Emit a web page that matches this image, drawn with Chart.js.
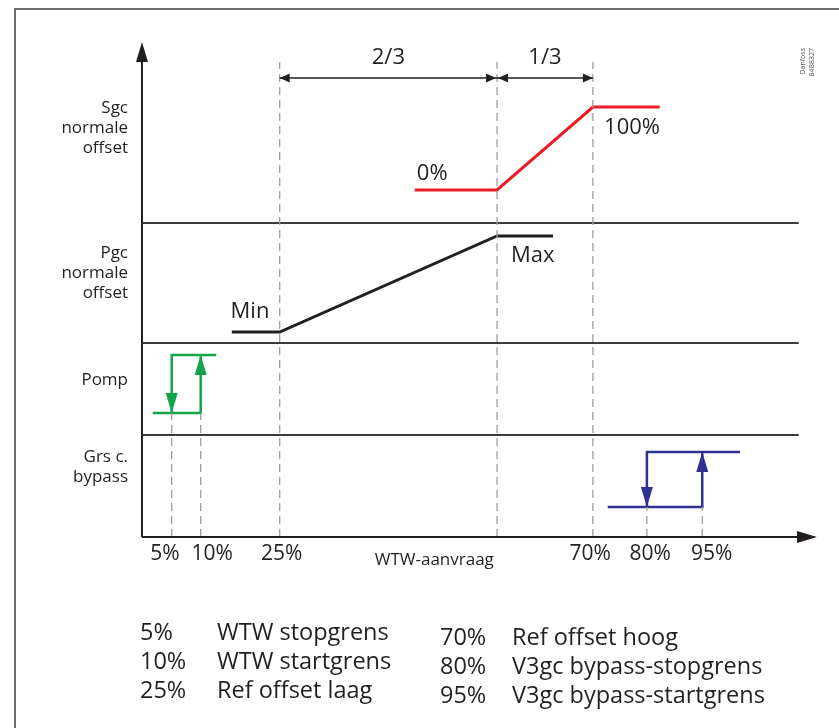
<!DOCTYPE html>
<html>
<head>
<meta charset="utf-8">
<script src="https://cdn.jsdelivr.net/npm/chart.js@4.4.1/dist/chart.umd.min.js"></script>
<style>
  html, body { margin: 0; padding: 0; background: #fff; }
</style>
</head>
<body>
<canvas id="grafiek" width="839" height="728"></canvas>
<script>
// x = plaats op de WTW-aanvraag as (schema, niet lineair), y = hoogte in het schema
var tickLabels = ['5%', '10%', '25%', '70%', '80%', '95%'];
var tickPos = [3.4, 10.4, 20.7, 66.4, 75.3, 84.4];
var grensPos = [4.4, 8.7, 20.4, 66.8, 74.8, 83.0];   // 5, 10, 25, 70, 80, 95 %
var midPos = 52.6;                                     // einde 2/3 deel

var panelNamen = [['Sgc', 'normale', 'offset'], ['Pgc', 'normale', 'offset'], 'Pomp', ['Grs c.', 'bypass']];
var panelMidden = [81.8, 52.8, 31.4, 13.9];
var panelGrenzen = [62.8, 38.8, 20.4];

var sgcX = [40.4, 52.6, 66.8, 76.7];
var sgcY = [69.4, 69.4, 86.0, 86.0];
var pgcX = [13.3, 20.4, 52.6, 60.9];
var pgcY = [41.0, 41.0, 60.2, 60.2];

var pompLaag = 24.8, pompHoog = 36.4;
var pompBegin = 1.6, pompEind = 11.0;
var bypassLaag = 6.0, bypassHoog = 17.0;
var bypassBegin = 69.0, bypassEind = 88.6;

var legendaLinks = [['5%', 'WTW stopgrens'], ['10%', 'WTW startgrens'], ['25%', 'Ref offset laag']];
var legendaRechts = [['70%', 'Ref offset hoog'], ['80%', 'V3gc bypass-stopgrens'], ['95%', 'V3gc bypass-startgrens']];

var tekstKleur = '#231f20';
var fontNaam = '"Open Sans", "Noto Sans", sans-serif';

function lijn(xs, ys, kleur, dikte, dash) {
  return {
    data: xs.map(function (x, i) { return { x: x, y: ys[i] }; }),
    borderColor: kleur,
    borderWidth: dikte,
    borderDash: dash || [],
    borderCapStyle: 'butt',
    borderJoinStyle: 'miter',
    pointRadius: 0,
    fill: false,
    tension: 0,
    clip: false
  };
}

var datasets = [];

// stippellijnen
[grensPos[2], midPos, grensPos[3]].forEach(function (x) {
  datasets.push(lijn([x, x], [0, 95], '#9d9d9d', 1.3, [8, 5]));
});
[grensPos[0], grensPos[1]].forEach(function (x) {
  datasets.push(lijn([x, x], [0, pompLaag], '#9d9d9d', 1.3, [8, 5]));
});
[grensPos[4], grensPos[5]].forEach(function (x) {
  datasets.push(lijn([x, x], [0, bypassLaag], '#9d9d9d', 1.3, [8, 5]));
});

// scheidingslijnen tussen de panelen
panelGrenzen.forEach(function (y) {
  datasets.push(lijn([0, 97.3], [y, y], '#3c3c3c', 2));
});

// Sgc en Pgc
datasets.push(lijn(sgcX, sgcY, '#ec1c24', 3));
datasets.push(lijn(pgcX, pgcY, '#231f20', 3));

// Pomp (groen)
datasets.push(lijn([pompBegin, grensPos[1], grensPos[1]], [pompLaag, pompLaag, pompHoog], '#12a54b', 2.5));
datasets.push(lijn([pompEind, grensPos[0], grensPos[0]], [pompHoog, pompHoog, pompLaag], '#12a54b', 2.5));

// bypass (blauw)
datasets.push(lijn([bypassBegin, grensPos[5], grensPos[5]], [bypassLaag, bypassLaag, bypassHoog], '#2e3192', 2.5));
datasets.push(lijn([bypassEind, grensPos[4], grensPos[4]], [bypassHoog, bypassHoog, bypassLaag], '#2e3192', 2.5));

function pijlPunt(ctx, x, y, dx, dy, lengte, breedte, kleur) {
  // punt op (x,y), richting (dx,dy)
  var nx = -dy, ny = dx;
  ctx.beginPath();
  ctx.moveTo(x, y);
  ctx.lineTo(x - dx * lengte + nx * breedte, y - dy * lengte + ny * breedte);
  ctx.lineTo(x - dx * lengte - nx * breedte, y - dy * lengte - ny * breedte);
  ctx.closePath();
  ctx.fillStyle = kleur;
  ctx.fill();
}

var schemaPlugin = {
  id: 'schema',
  beforeDraw: function (chart) {
    var ctx = chart.ctx;
    ctx.save();
    ctx.strokeStyle = '#6d6d6d';
    ctx.lineWidth = 2;
    ctx.strokeRect(15, 9, 1000, 1000);
    ctx.restore();
  },
  afterDatasetsDraw: function (chart) {
    var ctx = chart.ctx;
    var xs = chart.scales.x, ys = chart.scales.y;
    var px = function (v) { return xs.getPixelForValue(v); };
    var py = function (v) { return ys.getPixelForValue(v); };
    ctx.save();

    // assen met pijl
    ctx.strokeStyle = '#231f20';
    ctx.lineWidth = 2;
    ctx.beginPath();
    ctx.moveTo(px(0), py(0));
    ctx.lineTo(px(0), py(99) + 16);
    ctx.moveTo(px(0), py(0));
    ctx.lineTo(px(100) - 16, py(0));
    ctx.stroke();
    pijlPunt(ctx, px(0), py(99), 0, -1, 20, 6, '#231f20');
    pijlPunt(ctx, px(100), py(0), 1, 0, 20, 6, '#231f20');

    // maatlijnen 2/3 en 1/3
    var ym = py(91.8);
    ctx.lineWidth = 1.5;
    ctx.beginPath();
    ctx.moveTo(px(grensPos[2]), ym);
    ctx.lineTo(px(grensPos[3]), ym);
    ctx.stroke();
    pijlPunt(ctx, px(grensPos[2]), ym, -1, 0, 10, 4.5, '#231f20');
    pijlPunt(ctx, px(midPos) - 1, ym, 1, 0, 10, 4.5, '#231f20');
    pijlPunt(ctx, px(midPos) + 1, ym, -1, 0, 10, 4.5, '#231f20');
    pijlPunt(ctx, px(grensPos[3]), ym, 1, 0, 10, 4.5, '#231f20');

    // pijlen pomp en bypass
    pijlPunt(ctx, px(grensPos[0]), py(pompLaag), 0, 1, 20, 6, '#12a54b');
    pijlPunt(ctx, px(grensPos[1]), py(pompHoog), 0, -1, 20, 6, '#12a54b');
    pijlPunt(ctx, px(grensPos[4]), py(bypassLaag), 0, 1, 20, 6, '#2e3192');
    pijlPunt(ctx, px(grensPos[5]), py(bypassHoog), 0, -1, 20, 6, '#2e3192');

    // teksten in het schema
    ctx.fillStyle = tekstKleur;
    ctx.textAlign = 'center';
    ctx.textBaseline = 'middle';
    ctx.font = '22px ' + fontNaam;
    ctx.fillText('2/3', px((grensPos[2] + midPos) / 2), py(95.8));
    ctx.fillText('1/3', px((midPos + grensPos[3]) / 2), py(95.8));
    ctx.fillText('0%', px(43), py(72.6));
    ctx.fillText('100%', px(72.6), py(81.8));
    ctx.fillText('Max', px(57.9), py(56.2));
    ctx.fillText('Min', px(16), py(45));
    ctx.font = '17px ' + fontNaam;
    ctx.fillText('WTW-aanvraag', px(43.3), py(-4.6));

    // Danfoss code
    ctx.save();
    ctx.translate(805, 48);
    ctx.rotate(-Math.PI / 2);
    ctx.font = '7px ' + fontNaam;
    ctx.fillStyle = '#555';
    ctx.textAlign = 'right';
    ctx.fillText('Danfoss', 0, -2);
    ctx.fillText('84B8327', 0, 7);
    ctx.restore();

    // legenda onder het schema
    ctx.font = '23.5px ' + fontNaam;
    ctx.textAlign = 'left';
    legendaLinks.forEach(function (r, i) {
      ctx.fillText(r[0], 140, 633 + i * 29);
      ctx.fillText(r[1], 217, 633 + i * 29);
    });
    legendaRechts.forEach(function (r, i) {
      ctx.fillText(r[0], 440, 638 + i * 29);
      ctx.fillText(r[1], 512, 638 + i * 29);
    });
    ctx.restore();
  }
};

new Chart(document.getElementById('grafiek'), {
  type: 'line',
  data: { datasets: datasets },
  options: {
    responsive: false,
    animation: false,
    devicePixelRatio: 1,
    layout: { padding: { left: 0, top: 37, right: 22, bottom: 151 } },
    plugins: { legend: { display: false }, tooltip: { enabled: false } },
    scales: {
      x: {
        type: 'linear',
        min: 0,
        max: 100,
        grid: { display: false, drawTicks: false },
        border: { display: false },
        afterFit: function (s) { s.height = 40; },
        afterBuildTicks: function (s) {
          s.ticks = tickPos.map(function (v) { return { value: v }; });
        },
        ticks: {
          autoSkip: false,
          maxRotation: 0,
          padding: 4,
          color: tekstKleur,
          font: { family: fontNaam, size: 21 },
          callback: function (v, i) { return tickLabels[i]; }
        }
      },
      y: {
        type: 'linear',
        min: 0,
        max: 100,
        grid: { display: false, drawTicks: false },
        border: { display: false },
        afterFit: function (s) { s.width = 142; },
        afterBuildTicks: function (s) {
          s.ticks = panelMidden.map(function (v) { return { value: v }; });
        },
        ticks: {
          autoSkip: false,
          padding: 14,
          color: tekstKleur,
          font: { family: fontNaam, size: 17, lineHeight: 1.18 },
          callback: function (v, i) { return panelNamen[i]; }
        }
      }
    }
  },
  plugins: [schemaPlugin]
});
</script>
</body>
</html>
